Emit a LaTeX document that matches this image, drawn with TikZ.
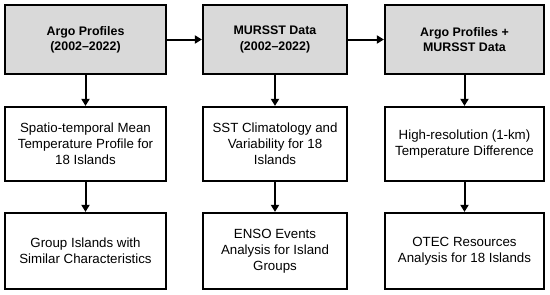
\documentclass[tikz,border=0pt]{standalone}
\usepackage{fontspec}
\setmainfont{Liberation Sans}
\usetikzlibrary{arrows.meta}
\begin{document}
\begin{tikzpicture}[x=1pt,y=-1pt,
  box/.style={draw=black,line width=2.2pt,align=center,inner sep=0pt,
    font=\fontsize{13.3}{15.8}\selectfont},
  head/.style={box,fill=gray!30,font=\fontsize{12.4}{15.3}\selectfont\bfseries},
  conn/.style={line width=2pt,-{Triangle[length=7pt,width=8pt]}}]
\useasboundingbox (0,0) rectangle (550,295);
% column 1
\node[head,minimum width=161pt,minimum height=69pt] (a1) at (85.5,39.5) {Argo Profiles\\(2002--2022)};
\node[box,minimum width=161pt,minimum height=74pt] (b1) at (85.5,144) {Spatio-temporal Mean\\Temperature Profile for\\18 Islands};
\node[box,minimum width=161pt,minimum height=76pt] (c1) at (85.5,251) {Group Islands with\\Similar Characteristics};
% column 2
\node[head,minimum width=144pt,minimum height=69pt] (a2) at (275,39.5) {MURSST Data\\(2002--2022)};
\node[box,minimum width=144pt,minimum height=74pt] (b2) at (275,144) {SST Climatology and\\Variability for 18\\Islands};
\node[box,minimum width=144pt,minimum height=76pt] (c2) at (275,251) {ENSO Events\\Analysis for Island\\Groups};
% column 3
\node[head,minimum width=159pt,minimum height=69pt] (a3) at (464.5,39.5) {Argo Profiles +\\MURSST Data};
\node[box,minimum width=159pt,minimum height=74pt] (b3) at (464.5,144) {High-resolution (1-km)\\Temperature Difference};
\node[box,minimum width=159pt,minimum height=76pt] (c3) at (464.5,251) {OTEC Resources\\Analysis for 18 Islands};
% connectors
\draw[conn] (a1) -- (b1);
\draw[conn] (b1) -- (c1);
\draw[conn] (a2) -- (b2);
\draw[conn] (b2) -- (c2);
\draw[conn] (a3) -- (b3);
\draw[conn] (b3) -- (c3);
\draw[conn] (a1) -- (a2);
\draw[conn] (a2) -- (a3);
\end{tikzpicture}
\end{document}
